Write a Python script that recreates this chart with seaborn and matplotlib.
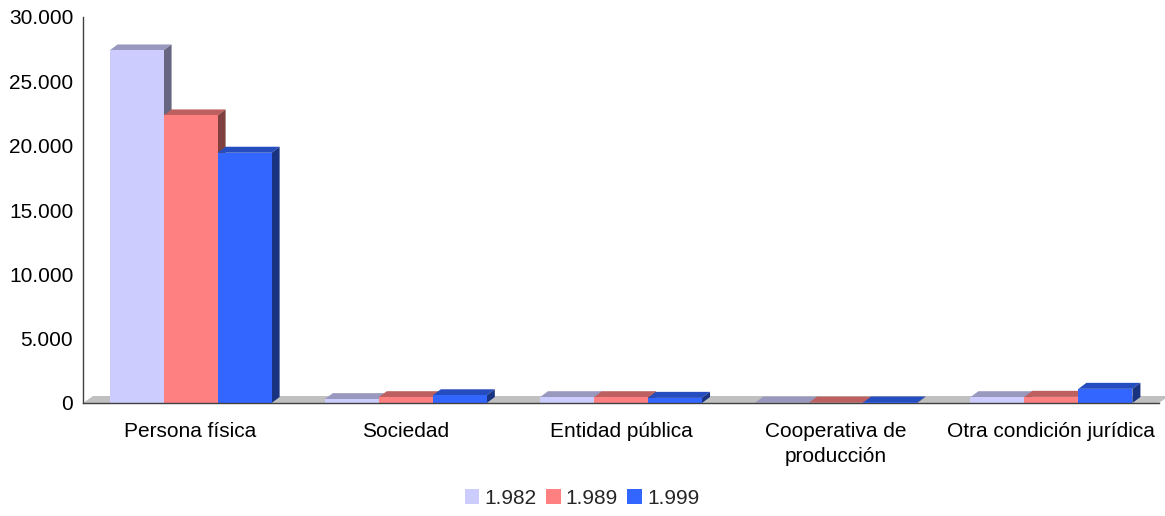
import numpy as np
import pandas as pd
import matplotlib
matplotlib.use("Agg")
import matplotlib.pyplot as plt
from matplotlib.patches import Polygon
from matplotlib.ticker import FuncFormatter, FixedLocator
import seaborn as sns

# data
categories = ["Persona física", "Sociedad", "Entidad pública",
              "Cooperativa de\nproducción", "Otra condición jurídica"]
years = ["1.982", "1.989", "1.999"]
v1982 = [27400, 300, 450, 30, 450]
v1989 = [22350, 450, 450, 30, 480]
v1999 = [19450, 600, 400, 40, 1100]
colors = ["#CCCCFF", "#FF8080", "#3366FF"]

df = pd.DataFrame({
    "categoria": categories * 3,
    "año": [years[0]] * 5 + [years[1]] * 5 + [years[2]] * 5,
    "valor": v1982 + v1989 + v1999,
})

sns.set_style("white")
plt.rcParams["font.family"] = ["Liberation Sans", "DejaVu Sans"]

fig = plt.figure(figsize=(11.65, 5.16), dpi=100)
ax = fig.add_axes([83 / 1165, 1 - 403 / 516, (1159 - 83) / 1165, (403 - 17) / 516])

sns.barplot(data=df, x="categoria", y="valor", hue="año", palette=colors,
            width=0.753, gap=0, edgecolor="none", linewidth=0, saturation=1,
            ax=ax, legend=True, zorder=3)

ax.set_xlim(-0.5, len(categories) - 0.5)
ax.set_ylim(0, 30000)

# depth of the fake 3D effect, in pixels -> data units
bb = ax.get_window_extent()
xr = ax.get_xlim()[1] - ax.get_xlim()[0]
yr = ax.get_ylim()[1] - ax.get_ylim()[0]
dx = 8 * xr / bb.width
dy = 6 * yr / bb.height

# floor
x0, x1 = ax.get_xlim()
fdx = 10 * xr / bb.width
fdy = 7 * yr / bb.height
ax.add_patch(Polygon([(x0, 0), (x1, 0), (x1 + fdx, fdy), (x0 + fdx, fdy)],
                     closed=True, facecolor="#C0C0C0", edgecolor="none",
                     zorder=1, clip_on=False))

# top and side faces of every bar
for cont, c in zip(ax.containers, colors):
    rgb = np.array(matplotlib.colors.to_rgb(c))
    top_c = rgb * 0.75
    side_c = rgb * 0.5
    for p in cont.patches:
        bx, bw, bh = p.get_x(), p.get_width(), p.get_height()
        ax.add_patch(Polygon([(bx, bh), (bx + bw, bh), (bx + bw + dx, bh + dy), (bx + dx, bh + dy)],
                             closed=True, facecolor=top_c, edgecolor="none", zorder=2))
        ax.add_patch(Polygon([(bx + bw, 0), (bx + bw + dx, dy), (bx + bw + dx, bh + dy), (bx + bw, bh)],
                             closed=True, facecolor=side_c, edgecolor="none", zorder=2))

# axes styling
for s in ["top", "right"]:
    ax.spines[s].set_visible(False)
for s in ["left", "bottom"]:
    ax.spines[s].set_color("#404040")
    ax.spines[s].set_linewidth(1)
    ax.spines[s].set_zorder(5)

ax.yaxis.set_major_formatter(FuncFormatter(lambda v, _: f"{int(v):,}".replace(",", ".")))
ax.set_yticks(np.arange(0, 30001, 5000))
ax.tick_params(axis="y", length=5, width=1, color="#404040", labelsize=15, pad=2, labelcolor="black")
ax.tick_params(axis="x", which="major", length=0, labelsize=15, pad=14, labelcolor="black")
for lab in ax.get_xticklabels():
    lab.set_linespacing(1.35)
ax.xaxis.set_minor_locator(FixedLocator(np.arange(-0.5, len(categories), 1.0)))
ax.tick_params(axis="x", which="minor", length=6, width=1, color="#404040")
ax.set_xlabel("")
ax.set_ylabel("")
ax.grid(False)

handles, labels = ax.get_legend_handles_labels()
ax.legend_.remove()
fig.legend(handles, labels, loc="center", bbox_to_anchor=(582 / 1165, 1 - 498 / 516), ncol=3,
           frameon=False, fontsize=15, handlelength=0.7, handleheight=0.7,
           handletextpad=0.25, columnspacing=0.45, borderpad=0)

fig.savefig("out.png", dpi=100)
